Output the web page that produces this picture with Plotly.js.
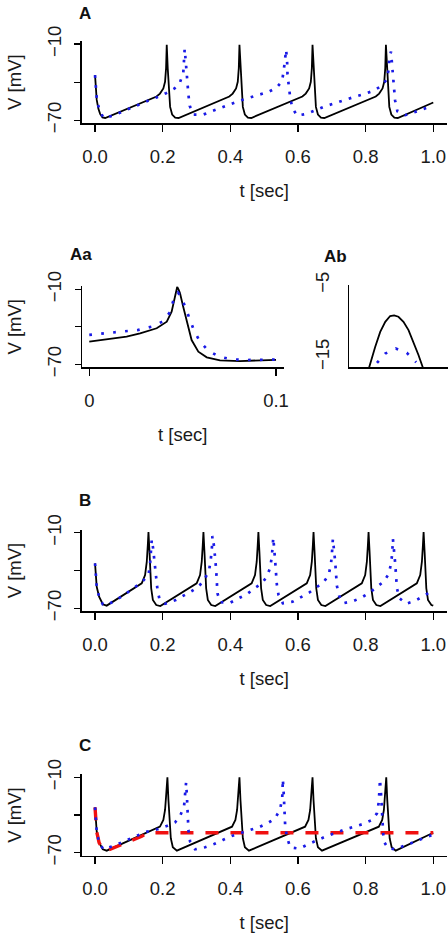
<!DOCTYPE html>
<html>
<head>
<meta charset="utf-8">
<script src="https://cdn.plot.ly/plotly-3.0.1.min.js"></script>
<style>html,body{margin:0;padding:0;background:#fff;}#plot{width:448px;height:936px;}</style>
</head>
<body>
<div id="plot"></div>
<script>
// ---------- Panel A (t in sec, V in mV) ----------
const aBlackT = [0,0.002,0.005,0.010,0.015,0.022,0.030,
  0.182,0.192,0.202,0.207,0.210,0.212,0.215,0.218,0.222,0.228,0.237,0.247,
  0.397,0.407,0.417,0.422,0.425,0.427,0.430,0.433,0.437,0.443,0.452,0.462,
  0.613,0.623,0.633,0.638,0.641,0.643,0.646,0.649,0.653,0.659,0.668,0.678,
  0.830,0.840,0.850,0.855,0.858,0.860,0.863,0.866,0.870,0.876,0.885,0.895,
  1.0];
const aBlackV = [-34.5,-45,-54,-61,-65,-67.7,-68.2,
  -51.3,-49,-45,-39.7,-29.2,-10.5,-29.2,-44.2,-59.5,-65.5,-67.9,-68.2,
  -51.3,-49,-45,-39.7,-29.2,-10.5,-29.2,-44.2,-59.5,-65.5,-67.9,-68.2,
  -51.3,-49,-45,-39.7,-29.2,-10.5,-29.2,-44.2,-59.5,-65.5,-67.9,-68.2,
  -51.3,-49,-45,-39.7,-29.2,-10.5,-29.2,-44.2,-59.5,-65.5,-67.9,-68.2,
  -56];
const aBlueT = [0,0.002,0.005,0.012,0.025,0.051,0.078,0.104,0.131,0.158,0.184,0.210,0.235,
  0.251,0.261,0.264,0.265,0.268,0.270,0.272,0.276,0.280,0.291,
  0.320,0.347,0.374,0.400,0.427,0.456,0.484,0.513,0.5375,0.553,0.558,0.561,0.565,
  0.568,0.569,0.573,0.577,0.583,0.597,0.626,0.680,0.707,0.735,0.764,0.792,0.820,0.846,
  0.861,0.868,0.870,0.875,0.878,0.880,0.883,0.887,0.894,0.917,0.942,0.970,0.996];
const aBlueV = [-34.5,-44.2,-52.4,-61.3,-68.2,-66.6,-63.4,-60.3,-57.4,-54.5,-51.8,-48.7,-45,
  -40.3,-32.4,-22.9,-14,-22.9,-31.3,-41,-49.7,-58.7,-65.5,
  -65.5,-62.6,-60,-57.4,-54.7,-52.1,-50,-47.6,-44.2,-39.2,-30.5,-21.5,-14.5,
  -24.7,-33.9,-43.2,-52.1,-60,-66.3,-65,-59,-56.8,-54.2,-51.8,-49.7,-47.1,-43.2,
  -38.4,-30.5,-21.3,-16,-26.6,-35.8,-44.5,-54.2,-62.9,-66,-63.9,-61.3,-58.7];

// ---------- Panel Aa (zoom on one spike) ----------
const aaBlackT = [0,0.01,0.02,0.0272,0.0361,0.0415,0.0441,0.0455,0.0463,0.0471,0.0479,0.0486,
  0.0503,0.0525,0.0548,0.0584,0.0629,0.070,0.0807,0.1];
const aaBlackV = [-51.9,-50,-47.9,-45.2,-41.2,-35.9,-27.9,-18.6,-12,-8,-10.5,-13.2,
  -23.9,-37.2,-50.6,-59.9,-64.4,-66.8,-67.4,-66.4];
const aaBlueT = [0,0.0066,0.0132,0.020,0.0263,0.0334,0.0391,0.0432,0.045,0.0475,0.049,
  0.0513,0.0536,0.0561,0.0593,0.0637,0.0696,0.0763,0.0829,0.0897,0.0964,0.1];
const aaBlueV = [-46.5,-45.5,-44.7,-43.9,-42.5,-39.9,-35.9,-28.4,-19.1,-12.7,-15.4,
  -23.9,-33.2,-43.1,-51.9,-59.1,-63.9,-66,-66.6,-66.6,-66.3,-66.2];

// ---------- Panel Ab (zoom on spike peak) ----------
const abBlackT = [0.0458,0.04598,0.04619,0.04652,0.04685,0.04717,0.04743,0.04771,0.04804,
  0.04837,0.04869,0.04902,0.0493];
const abBlackV = [-16.4,-15,-13.6,-11.5,-10.1,-9.3,-9.2,-9.4,-10.1,-11.25,-12.9,-14.7,-16.4];
const abBlueT = [0.04631,0.04685,0.04754,0.04826,0.04887];
const abBlueV = [-15.8,-14.5,-13.8,-14.4,-15.7];

// ---------- Panel B ----------
const bBlackT = [0,0.002,0.005,0.012,0.023,0.0345,
  0.138,0.148,0.153,0.156,0.158,0.161,0.163,0.166,0.171,0.181,0.193,
  0.3005,0.3105,0.3155,0.3185,0.3205,0.3235,0.3255,0.3285,0.3335,0.3435,0.3555,
  0.463,0.473,0.478,0.481,0.483,0.486,0.488,0.491,0.496,0.506,0.518,
  0.626,0.636,0.641,0.644,0.646,0.649,0.651,0.654,0.659,0.669,0.681,
  0.7887,0.7987,0.8037,0.8067,0.8087,0.8117,0.8137,0.8167,0.8217,0.8317,0.8437,
  0.9514,0.9614,0.9664,0.9694,0.9714,0.9744,0.9764,0.9794,0.9844,0.9944,1.0];
const bBlackV = [-34.3,-43.6,-52.9,-60.8,-66.8,-67.9,
  -50.2,-43.6,-33,-19.8,-9.5,-25.1,-41,-54.1,-63.4,-67.4,-68.2,
  -50.2,-43.6,-33,-19.8,-9.5,-25.1,-41,-54.1,-63.4,-67.4,-68.2,
  -50.2,-43.6,-33,-19.8,-9.5,-25.1,-41,-54.1,-63.4,-67.4,-68.2,
  -50.2,-43.6,-33,-19.8,-9.5,-25.1,-41,-54.1,-63.4,-67.4,-68.2,
  -50.2,-43.6,-33,-19.8,-9.5,-25.1,-41,-54.1,-63.4,-67.4,-68.2,
  -50.2,-43.6,-33,-19.8,-9.5,-25.1,-41,-54.1,-63.4,-67.4,-67.9];
const bBlueT = [0,0.002,0.005,0.012,0.023,0.035,0.080,0.138,0.158,0.1627,0.1657,0.1677,
  0.1715,0.1736,0.1775,0.1805,0.1844,0.1903,0.207,0.2387,0.2633,0.286,0.3086,0.3254,
  0.3373,0.3423,0.3462,0.347,0.352,0.356,0.358,0.360,0.3619,0.370,0.3994,0.424,0.4487,
  0.4714,0.493,0.508,0.5178,0.5227,0.5256,0.527,0.5325,0.5345,0.5375,0.5424,0.5553,
  0.584,0.6085,0.633,0.653,0.6755,0.6903,0.6973,0.7003,0.7032,0.710,0.713,0.715,0.7219,
  0.7347,0.7643,0.789,0.8116,0.8334,0.853,0.8678,0.8748,0.8787,0.8807,0.8876,0.8905,
  0.8925,0.9003,0.920,0.9467,0.9714,0.9961];
const bBlueV = [-34.3,-43.6,-52.9,-60.8,-66.8,-67.6,-60.5,-49.4,-43.6,-35.1,-26.4,-15.5,
  -22,-27.1,-36.2,-45.7,-54.7,-62.6,-66.4,-63.4,-60,-56.3,-52.1,-46.2,
  -39.6,-31.1,-19.8,-12.6,-21.1,-31.1,-39,-48.3,-58.1,-65.2,-65.6,-62.1,-58.9,
  -54.1,-50.2,-44.9,-37.8,-29,-19.2,-14,-32.2,-41.7,-51,-59.4,-66,
  -64.8,-61.3,-57.6,-53.7,-49.4,-43.6,-35.6,-26.9,-15,-33,-42.8,-52.1,-60.2,
  -66,-64.2,-61.3,-57.6,-53.3,-48.9,-43,-35.1,-26.4,-15,-34.8,-44.9,
  -54.1,-62.1,-66.4,-64,-60,-56.3];

// ---------- Panel C ----------
const cBlackT = [0,0.002,0.005,0.012,0.023,0.0345,
  0.192,0.202,0.207,0.210,0.214,0.217,0.220,0.224,0.230,0.242,
  0.405,0.415,0.420,0.423,0.427,0.430,0.433,0.437,0.443,0.455,
  0.621,0.631,0.636,0.639,0.643,0.646,0.649,0.653,0.659,0.671,
  0.839,0.849,0.854,0.857,0.861,0.864,0.867,0.871,0.877,0.889,
  1.0];
const cBlackV = [-33.9,-44,-53.3,-62,-67.3,-68.4,
  -49.3,-44,-36,-25.4,-10,-28,-46.6,-58.5,-65.7,-68.4,
  -49.3,-44,-36,-25.4,-10,-28,-46.6,-58.5,-65.7,-68.4,
  -49.3,-44,-36,-25.4,-10,-28,-46.6,-58.5,-65.7,-68.4,
  -49.3,-44,-36,-25.4,-10,-28,-46.6,-58.5,-65.7,-68.4,
  -54.1];
const cBlueT = [0,0.002,0.005,0.012,0.025,0.060,0.100,0.150,0.1844,0.212,0.2367,0.2515,
  0.2633,0.2663,0.2692,0.2715,0.2732,0.2745,0.2761,0.281,0.2959,0.3254,0.352,0.3778,
  0.4043,0.4586,0.488,0.5127,0.5325,0.5473,0.5535,0.5545,0.5553,0.558,0.5592,0.5621,
  0.5671,0.5769,0.6045,0.6311,0.6805,0.7347,0.792,0.8186,0.8334,0.8383,0.8413,0.8423,
  0.846,0.849,0.852,0.856,0.866,0.8876,0.912,0.9418,0.9695,0.996];
const cBlueV = [-33.9,-44,-53.3,-62,-67.5,-64,-59.5,-53.5,-51.4,-48.8,-45.8,-40.8,
  -32.8,-23.3,-14.3,-24,-33.4,-43.4,-51.9,-61.2,-67.3,-65.7,-63.1,-59.9,
  -56.7,-51.9,-49.3,-46.1,-42.6,-35.5,-25.9,-18,-11.6,-24,-35.5,-48,
  -57.3,-65.7,-66.8,-63.1,-57.3,-51.9,-47.2,-44,-38.7,-30.7,-18.8,-11.6,
  -25,-40,-55,-62,-66.5,-67.3,-64.7,-61.2,-58.5,-55.9];
const cRedT = [0,0.002,0.005,0.012,0.023,0.0345,0.1036,0.138,0.155,1.0];
const cRedV = [-33.9,-44,-53.3,-62,-67.3,-68.4,-60.7,-57,-54.1,-54.1];

// ---------- Ticks and labels ----------
const xTickVals = [0,0.2,0.4,0.6,0.8,1.0];
const xTickText = ['0.0','0.2','0.4','0.6','0.8','1.0'];
const yTickVals = [-70,-40,-10];
const yTickText = ['\u221270','','\u221210'];
const aaXTickVals = [0,0.1];
const aaXTickText = ['0','0.1'];
const abYTickVals = [-15,-5];
const abYTickText = ['\u221215','\u22125'];
const panelLabels = ['A','Aa','Ab','B','C'];
const xTitle = 't [sec]';
const yTitle = 'V [mV]';

// ---------- Figure ----------
const FONT = 'Liberation Sans, Arial, Helvetica, sans-serif';
const W = 448, H = 936;
const px2x = p => p / W;
const px2y = p => 1 - p / H;

function blackTrace(x, y, xa, ya) {
  return {x, y, xaxis: xa, yaxis: ya, type: 'scatter', mode: 'lines',
    line: {color: '#000', width: 1.8}, hoverinfo: 'skip'};
}
function blueTrace(x, y, xa, ya, dash) {
  return {x, y, xaxis: xa, yaxis: ya, type: 'scatter', mode: 'lines',
    line: {color: '#1a1ae6', width: 2.7, dash: dash}, hoverinfo: 'skip'};
}

const traces = [
  blackTrace(aBlackT, aBlackV, 'x', 'y'),
  blueTrace(aBlueT, aBlueV, 'x', 'y', '2.7px,7.3px'),
  blackTrace(aaBlackT, aaBlackV, 'x2', 'y2'),
  blueTrace(aaBlueT, aaBlueV, 'x2', 'y2', '2.7px,9.3px'),
  blackTrace(abBlackT, abBlackV, 'x3', 'y3'),
  blueTrace(abBlueT, abBlueV, 'x3', 'y3', '2.7px,9.3px'),
  blackTrace(bBlackT, bBlackV, 'x4', 'y4'),
  blueTrace(bBlueT, bBlueV, 'x4', 'y4', '2.7px,7.3px'),
  blackTrace(cBlackT, cBlackV, 'x5', 'y5'),
  {x: cRedT, y: cRedV, xaxis: 'x5', yaxis: 'y5', type: 'scatter', mode: 'lines',
    line: {color: '#f01010', width: 3.4, dash: '13px,12px'}, hoverinfo: 'skip'},
  blueTrace(cBlueT, cBlueV, 'x5', 'y5', '2.7px,7.3px')
];

const tickFont = {family: FONT, size: 18.5, color: '#1a1a1a'};
const titleFont = {family: FONT, size: 18.5, color: '#1a1a1a'};

function xAxis(dom, range, anchor, opts) {
  return Object.assign({
    domain: dom, range: range, anchor: anchor, showline: true, linecolor: '#000', linewidth: 1.2,
    ticks: 'outside', ticklen: 7, tickwidth: 1.2, tickcolor: '#000', showgrid: false, zeroline: false,
    tickvals: xTickVals, ticktext: xTickText, tickfont: tickFont, ticklabelstandoff: 9,
    title: {text: xTitle, font: titleFont, standoff: 18}, fixedrange: true
  }, opts || {});
}
function yAxis(dom, range, anchor, opts) {
  return Object.assign({
    domain: dom, range: range, anchor: anchor, showline: true, linecolor: '#000', linewidth: 1.2,
    ticks: 'outside', ticklen: 6, tickwidth: 1.2, tickcolor: '#000', showgrid: false, zeroline: false,
    tickvals: yTickVals, ticktext: yTickText, tickangle: -90, tickfont: tickFont, ticklabelstandoff: 6,
    title: {text: yTitle, font: titleFont, standoff: 17}, fixedrange: true
  }, opts || {});
}

const xMainDom = [px2x(81.5), px2x(446.8)];
const layout = {
  width: W, height: H, margin: {l: 0, r: 0, t: 0, b: 0},
  paper_bgcolor: '#fff', plot_bgcolor: '#fff', showlegend: false,
  font: {family: FONT, color: '#1a1a1a'},
  xaxis: xAxis(xMainDom, [-0.04, 1.04], 'y'),
  yaxis: yAxis([px2y(123.3), px2y(41)], [-72.4, -7.6], 'x'),
  xaxis2: xAxis([px2x(81.8), px2x(283.5)], [-0.004, 0.104], 'y2',
    {tickvals: aaXTickVals, ticktext: aaXTickText}),
  yaxis2: yAxis([px2y(367.3), px2y(286.3)], [-72.4, -7.6], 'x2'),
  xaxis3: xAxis([px2x(349.3), 1], [0.0445, 0.05095], 'y3',
    {ticks: '', showticklabels: false, title: {text: ''}}),
  yaxis3: yAxis([px2y(367.3), px2y(285)], [-16.4, -5], 'x3',
    {ticks: '', tickvals: abYTickVals, ticktext: abYTickText, title: {text: ''}, ticklabelstandoff: 12}),
  xaxis4: xAxis(xMainDom, [-0.04, 1.04], 'y4'),
  yaxis4: yAxis([px2y(611.3), px2y(529.7)], [-72.4, -7.6], 'x4'),
  xaxis5: xAxis(xMainDom, [-0.04, 1.04], 'y5'),
  yaxis5: yAxis([px2y(855.7), px2y(774.3)], [-72.4, -7.6], 'x5'),
  annotations: [
    [panelLabels[0], 93, 13.3],
    [panelLabels[1], 93.5, 255],
    [panelLabels[2], 348.5, 256],
    [panelLabels[3], 93, 500],
    [panelLabels[4], 93, 745]
  ].map(([t, x, y]) => ({
    text: '<b>' + t + '</b>', xref: 'paper', yref: 'paper', x: px2x(x), y: px2y(y),
    xanchor: 'right', yanchor: 'middle', showarrow: false,
    font: {family: FONT, size: 17, color: '#111'}
  }))
};

Plotly.newPlot('plot', traces, layout, {staticPlot: true, displayModeBar: false});
</script>
</body>
</html>
